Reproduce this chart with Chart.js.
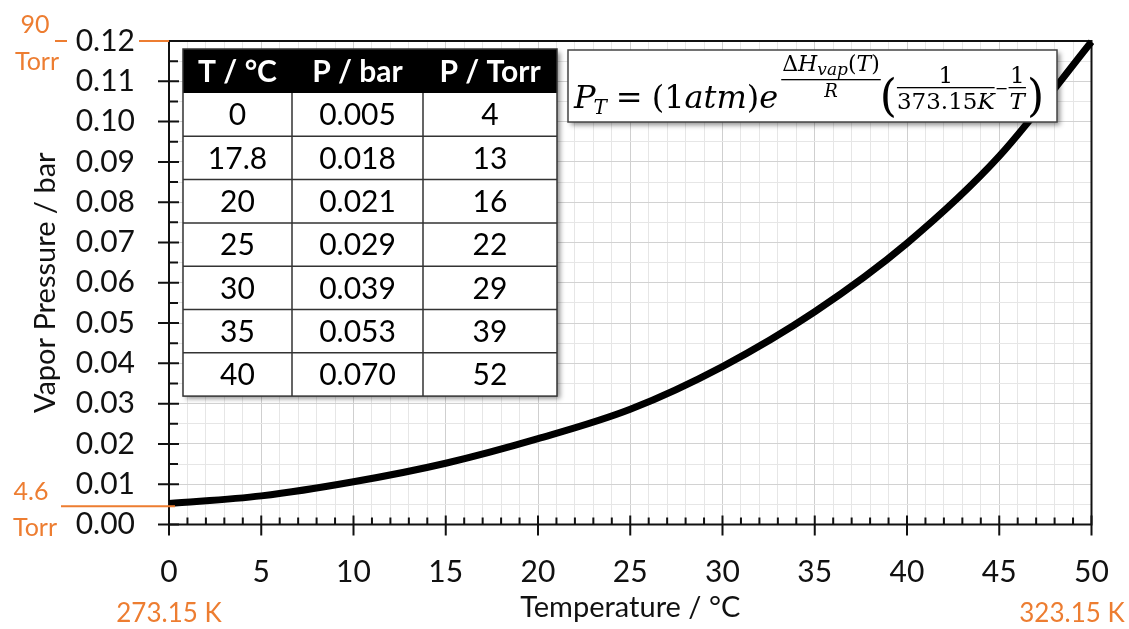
<!DOCTYPE html>
<html>
<head>
<meta charset="utf-8">
<script src="https://cdn.jsdelivr.net/npm/chart.js@4.4.1/dist/chart.umd.min.js"></script>
<style>
    body { margin: 0; background: #fff; }
    canvas { display: block; }
</style>
</head>
<body>
<canvas id="myChart" width="1129" height="629"></canvas>
<script>
// curve (bar vs °C)
var tempC = [0, 5, 10, 15, 20, 25, 30, 35, 40, 45, 50];
var pressureBar = [0.0052, 0.0071, 0.0106, 0.0152, 0.0213, 0.0286, 0.0392, 0.0528, 0.0698, 0.0914, 0.1198];

// table in the top left corner
var tableHead = ['T / °C', 'P / bar', 'P / Torr'];
var tableTemp = ['0', '17.8', '20', '25', '30', '35', '40'];
var tableBar = ['0.005', '0.018', '0.021', '0.029', '0.039', '0.053', '0.070'];
var tableTorr = ['4', '13', '16', '22', '29', '39', '52'];

var ORANGE = '#ED7D31';
var sans = 'Lato, "Open Sans", sans-serif';
var serif = '"DejaVu Serif", "Liberation Serif", serif';

function isMajorY(v) { return Math.round(v * 1000) % 10 === 0; }
function isMajorX(v) { return Math.round(v) % 5 === 0; }

function put(ctx, s, x, y, font) {
    ctx.font = font;
    ctx.fillText(s, x, y);
    return x + ctx.measureText(s).width;
}
function width(ctx, s, font) {
    ctx.font = font;
    return ctx.measureText(s).width;
}

function drawTable(ctx) {
    var x0 = 183, y0 = 49, cols = [0, 109, 240, 374], headH = 44, rowH = 43.3;
    var rows = tableTemp.length;
    var h = headH + rows * rowH;
    ctx.save();
    ctx.shadowColor = 'rgba(0,0,0,0.45)';
    ctx.shadowOffsetX = 3; ctx.shadowOffsetY = 3; ctx.shadowBlur = 5;
    ctx.fillStyle = '#fff';
    ctx.fillRect(x0, y0, cols[3], h);
    ctx.restore();
    ctx.fillStyle = '#000';
    ctx.fillRect(x0, y0, cols[3], headH);

    ctx.strokeStyle = '#333';
    ctx.lineWidth = 1.5;
    ctx.strokeRect(x0, y0, cols[3], h);
    ctx.beginPath();
    for (var r = 1; r < rows; r++) {
        ctx.moveTo(x0, y0 + headH + r * rowH);
        ctx.lineTo(x0 + cols[3], y0 + headH + r * rowH);
    }
    for (var c = 1; c < 3; c++) {
        ctx.moveTo(x0 + cols[c], y0 + headH);
        ctx.lineTo(x0 + cols[c], y0 + h);
    }
    ctx.stroke();

    ctx.textAlign = 'center';
    ctx.textBaseline = 'middle';
    ctx.fillStyle = '#fff';
    ctx.font = 'bold 30px ' + sans;
    for (var i = 0; i < 3; i++) {
        ctx.fillText(tableHead[i], x0 + (cols[i] + cols[i + 1]) / 2, y0 + headH / 2 + 1);
    }
    ctx.fillStyle = '#000';
    ctx.font = '30px ' + sans;
    var cells = [tableTemp, tableBar, tableTorr];
    for (var r2 = 0; r2 < rows; r2++) {
        var cy = y0 + headH + r2 * rowH + rowH / 2 + 1;
        for (var c2 = 0; c2 < 3; c2++) {
            ctx.fillText(cells[c2][r2], x0 + (cols[c2] + cols[c2 + 1]) / 2, cy);
        }
    }
}

function drawFormula(ctx) {
    var bx = 568, by = 50, bw = 489, bh = 72;
    ctx.save();
    ctx.shadowColor = 'rgba(0,0,0,0.45)';
    ctx.shadowOffsetX = 3; ctx.shadowOffsetY = 3; ctx.shadowBlur = 5;
    ctx.fillStyle = '#fff';
    ctx.fillRect(bx, by, bw, bh);
    ctx.restore();
    ctx.strokeStyle = '#444';
    ctx.lineWidth = 1.5;
    ctx.strokeRect(bx, by, bw, bh);

    ctx.fillStyle = '#000';
    ctx.textAlign = 'left';
    ctx.textBaseline = 'alphabetic';
    var big = '32px ' + serif, bigI = 'italic 32px ' + serif;
    var sm = '23px ' + serif, smI = 'italic 23px ' + serif;
    var base = 108;
    var x = put(ctx, 'P', 574, base, bigI);
    x = put(ctx, 'T', x - 2, base + 6, 'italic 20px ' + serif);
    x = put(ctx, '=', x + 9, base, big);
    x = put(ctx, '(1', x + 9, base, big);
    x = put(ctx, 'atm', x, base, bigI);
    x = put(ctx, ')', x, base, big);
    x = put(ctx, 'e', x, base, bigI);

    // exponent: ΔHvap(T) / R
    var nb = 71, n0 = x + 4;
    var nf = '22px ' + serif, nfI = 'italic 22px ' + serif;
    x = put(ctx, 'Δ', n0, nb, nf);
    x = put(ctx, 'H', x, nb, nfI);
    x = put(ctx, 'vap', x, nb + 4, 'italic 17px ' + serif);
    x = put(ctx, '(', x, nb, nf);
    x = put(ctx, 'T', x, nb, nfI);
    x = put(ctx, ')', x, nb, nf);
    ctx.fillRect(n0 - 1, 79, x - n0 + 2, 1.3);
    ctx.textAlign = 'center';
    put(ctx, 'R', (n0 + x) / 2, 97, 'italic 18px ' + serif);

    // ( 1/373.15K - 1/T )
    ctx.textAlign = 'left';
    x = put(ctx, '(', x, 111, '44px ' + serif);
    var d0 = x;
    var dw = width(ctx, '373.15', sm) + width(ctx, 'K', smI);
    ctx.fillRect(d0, 87, dw, 1.3);
    ctx.textAlign = 'center';
    put(ctx, '1', d0 + dw / 2, 83, sm);
    ctx.textAlign = 'left';
    var k = put(ctx, '373.15', d0, 109, sm);
    put(ctx, 'K', k, 109, smI);
    x = d0 + dw + 2;
    ctx.fillRect(x, 88, 10, 1.3);
    x += 12;
    var tw = width(ctx, 'T', smI) + 2;
    ctx.fillRect(x, 87, tw, 1.3);
    ctx.textAlign = 'center';
    put(ctx, '1', x + tw / 2, 83, sm);
    put(ctx, 'T', x + tw / 2, 109, smI);
    ctx.textAlign = 'left';
    put(ctx, ')', x + tw + 1, 111, '44px ' + serif);
}

var extras = {
    id: 'extras',
    beforeDatasetsDraw: function(chart) {
        var ctx = chart.ctx, a = chart.chartArea;
        var xs = chart.scales.x, ys = chart.scales.y;
        ctx.save();
        ctx.strokeStyle = '#111';
        ctx.lineWidth = 2;
        ctx.strokeRect(a.left, a.top, a.right - a.left, a.bottom - a.top);
        ctx.beginPath();
        xs.ticks.forEach(function(t) {
            var px = xs.getPixelForValue(t.value);
            if (isMajorX(t.value)) {
                ctx.moveTo(px, a.bottom - 9); ctx.lineTo(px, a.bottom + 11);
            } else {
                ctx.moveTo(px, a.bottom - 7); ctx.lineTo(px, a.bottom);
            }
        });
        ys.ticks.forEach(function(t) {
            var py = ys.getPixelForValue(t.value);
            if (isMajorY(t.value)) {
                ctx.moveTo(a.left - 11, py); ctx.lineTo(a.left + 10, py);
            } else {
                ctx.moveTo(a.left, py); ctx.lineTo(a.left + 9, py);
            }
        });
        ctx.stroke();
        ctx.restore();
    },
    afterDraw: function(chart) {
        var ctx = chart.ctx, a = chart.chartArea;
        var ys = chart.scales.y, xs = chart.scales.x;
        ctx.save();
        // orange markers
        ctx.strokeStyle = ORANGE;
        ctx.lineWidth = 2;
        var yTop = ys.getPixelForValue(0.12);
        var yLow = ys.getPixelForValue(0.0045);
        ctx.beginPath();
        ctx.moveTo(55, yTop); ctx.lineTo(67, yTop);
        ctx.moveTo(139, yTop); ctx.lineTo(a.left, yTop);
        ctx.moveTo(61, yLow); ctx.lineTo(a.left + 6, yLow);
        ctx.stroke();
        ctx.fillStyle = ORANGE;
        ctx.textAlign = 'center';
        ctx.textBaseline = 'middle';
        ctx.font = '25px ' + sans;
        ctx.fillText('90', 35, 25);
        ctx.fillText('Torr', 37, 62);
        ctx.fillText('4.6', 31, 492);
        ctx.fillText('Torr', 35, 528);
        ctx.font = '26px ' + sans;
        ctx.fillText('273.15 K', xs.getPixelForValue(0), 614);
        ctx.fillText('323.15 K', 1072, 614);

        drawTable(ctx);
        drawFormula(ctx);
        ctx.restore();
    }
};

var ctx = document.getElementById('myChart').getContext('2d');
var myChart = new Chart(ctx, {
    type: 'line',
    data: {
        datasets: [{
            data: tempC.map(function(t, i) { return { x: t, y: pressureBar[i] }; }),
            borderColor: '#000',
            borderWidth: 7,
            pointRadius: 0,
            pointHoverRadius: 0,
            cubicInterpolationMode: 'monotone',
            fill: false,
            clip: 4
        }]
    },
    options: {
        responsive: false,
        animation: false,
        layout: { autoPadding: false, padding: { left: 0, top: 41, right: 37.5, bottom: 0 } },
        plugins: { legend: { display: false }, tooltip: { enabled: false } },
        scales: {
            x: {
                type: 'linear',
                min: 0, max: 50,
                afterFit: function(s) {
                    s.height = 104.5;
                    s.paddingLeft = 0; s.paddingRight = 0;
                },
                grid: {
                    drawTicks: false,
                    color: function(c) { return isMajorX(c.tick.value) ? '#cfcfcf' : '#e6e6e6'; }
                },
                border: { display: false },
                ticks: {
                    stepSize: 1,
                    autoSkip: false,
                    maxRotation: 0,
                    padding: 30,
                    color: '#111',
                    font: { family: sans, size: 30 },
                    callback: function(v) { return isMajorX(v) ? String(v) : ''; }
                },
                title: {
                    display: true,
                    text: 'Temperature / °C',
                    color: '#111',
                    font: { family: sans, size: 29 },
                    padding: { top: 0, bottom: 4 }
                }
            },
            y: {
                min: 0, max: 0.12,
                afterFit: function(s) {
                    s.width = 169;
                    s.paddingTop = 0; s.paddingBottom = 0;
                },
                grid: {
                    drawTicks: false,
                    color: function(c) { return isMajorY(c.tick.value) ? '#d2d2d2' : '#e6e6e6'; }
                },
                border: { display: false },
                ticks: {
                    stepSize: 0.005,
                    autoSkip: false,
                    padding: 34,
                    color: '#111',
                    font: { family: sans, size: 30 },
                    callback: function(v) { return isMajorY(v) ? v.toFixed(2) : ''; }
                },
                title: {
                    display: true,
                    text: 'Vapor Pressure / bar',
                    color: '#111',
                    font: { family: sans, size: 29 },
                    padding: { top: 28, bottom: 0 }
                }
            }
        }
    },
    plugins: [extras]
});
</script>
</body>
</html>
